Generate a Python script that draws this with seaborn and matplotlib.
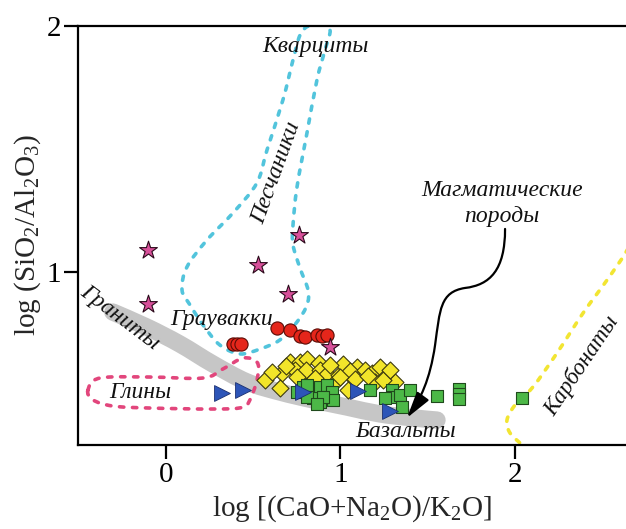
import numpy as np
import matplotlib
matplotlib.use("Agg")
import matplotlib.pyplot as plt
from matplotlib.path import Path
from matplotlib.patches import PathPatch, FancyArrowPatch
import seaborn as sns

# ---- sample groups: log[(CaO+Na2O)/K2O] vs log(SiO2/Al2O3) ----
star_x = [-0.103, -0.103, 0.527, 0.762, 0.699, 0.940]
star_y = [1.089, 0.870, 1.028, 1.150, 0.911, 0.695]

circle_x = [0.636, 0.711, 0.768, 0.797, 0.865, 0.894, 0.923, 0.384, 0.407, 0.430]
circle_y = [0.772, 0.764, 0.740, 0.736, 0.744, 0.740, 0.744, 0.707, 0.707, 0.707]

tri_x = [0.321, 0.441, 0.785, 1.100, 1.284]
tri_y = [0.508, 0.520, 0.512, 0.516, 0.435]

diam_x = [0.567, 0.665, 0.653, 0.711, 0.768, 0.808, 0.739, 0.802, 0.751, 0.877,
          0.883, 0.923, 0.825, 0.968, 0.991, 1.037, 1.014, 1.072, 1.095, 1.054,
          1.083, 1.140, 1.181, 1.226, 1.266, 1.312, 1.043, 1.198, 0.997, 0.688,
          1.158, 1.244, 0.940, 0.854, 0.607, 1.284]
diam_y = [0.561, 0.589, 0.528, 0.634, 0.634, 0.646, 0.602, 0.602, 0.573, 0.630,
          0.602, 0.585, 0.541, 0.553, 0.581, 0.606, 0.626, 0.569, 0.614, 0.598,
          0.565, 0.602, 0.589, 0.614, 0.581, 0.553, 0.520, 0.553, 0.573, 0.618,
          0.577, 0.561, 0.622, 0.569, 0.593, 0.602]

sq_x = [0.751, 0.785, 0.825, 0.854, 0.883, 0.923, 0.951, 0.957, 0.883, 0.842,
        0.900, 0.808, 0.865, 0.808, 1.169, 1.295, 1.301, 1.341, 1.398, 1.255,
        1.352, 1.553, 1.679, 1.679, 1.679, 2.040]
sq_y = [0.512, 0.533, 0.520, 0.500, 0.533, 0.541, 0.512, 0.480, 0.472, 0.488,
        0.492, 0.492, 0.463, 0.541, 0.520, 0.520, 0.492, 0.500, 0.520, 0.488,
        0.451, 0.496, 0.524, 0.504, 0.484, 0.488]

# ---- rock-type fields ----
trend_x = [-0.304, -0.109, 0.080, 0.269, 0.464, 0.653, 0.842, 1.037, 1.226, 1.415, 1.553]
trend_y = [0.837, 0.776, 0.707, 0.626, 0.553, 0.512, 0.480, 0.451, 0.423, 0.407, 0.398]

clay_x = [-0.447, -0.378, -0.092, 0.212, 0.327, 0.441, 0.521, 0.527, 0.493, 0.441,
          0.269, -0.092, -0.304, -0.418]
clay_y = [0.520, 0.569, 0.573, 0.569, 0.606, 0.650, 0.634, 0.581, 0.500, 0.451,
          0.443, 0.447, 0.455, 0.480]

sand_x = [0.814, 0.768, 0.728, 0.670, 0.579, 0.521, 0.384, 0.235, 0.120, 0.092,
          0.138, 0.212, 0.309, 0.424, 0.539, 0.653, 0.751, 0.808, 0.814, 0.768,
          0.728, 0.728, 0.751, 0.808, 0.865, 0.911, 0.940, 0.883]
sand_y = [2.000, 1.963, 1.862, 1.699, 1.496, 1.362, 1.240, 1.130, 1.020, 0.927,
          0.866, 0.785, 0.703, 0.667, 0.687, 0.724, 0.797, 0.866, 0.927, 1.016,
          1.110, 1.191, 1.346, 1.565, 1.780, 1.902, 1.984, 2.016]

carb_x = [2.716, 2.636, 2.527, 2.390, 2.241, 2.103, 2.000, 1.954, 1.971, 2.040, 2.063]
carb_y = [1.191, 1.081, 0.967, 0.833, 0.671, 0.533, 0.459, 0.398, 0.346, 0.297, 0.276]

xticks = [0, 1, 2]
yticks = [1, 2]


def smooth_path(xs, ys, closed=False):
    """Catmull-Rom through the vertices, written as cubic Bezier segments."""
    p = np.column_stack([xs, ys]).astype(float)
    n = len(p)
    verts = [p[0]]
    codes = [Path.MOVETO]
    segs = n if closed else n - 1
    for i in range(segs):
        p0 = p[(i - 1) % n] if (closed or i > 0) else p[i]
        p1 = p[i % n]
        p2 = p[(i + 1) % n]
        p3 = p[(i + 2) % n] if (closed or i + 2 < n) else p2
        c1 = p1 + (p2 - p0) / 6.0
        c2 = p2 - (p3 - p1) / 6.0
        verts += [c1, c2, p2]
        codes += [Path.CURVE4] * 3
    return Path(np.array(verts), codes)


sns.set_style("ticks")
plt.rcParams["font.family"] = ["Liberation Serif", "DejaVu Serif"]
plt.rcParams["mathtext.fontset"] = "custom"
plt.rcParams["mathtext.rm"] = "Liberation Serif"
plt.rcParams["mathtext.it"] = "Liberation Serif:italic"

fig = plt.figure(figsize=(6.26, 5.29), dpi=100)
ax = fig.add_axes([78 / 626, 1 - 445 / 529, (626 - 78) / 626, (445 - 26) / 529])
ax.set_xlim(-0.504, 2.636)
ax.set_ylim(0.2967, 2.0)

# granite-basalt trend band
band = smooth_path(trend_x, trend_y)
ax.add_patch(PathPatch(band, fill=False, edgecolor="#c6c6c6", lw=12.5,
                       capstyle="round", joinstyle="round", zorder=1))

dash = (0, (1.2, 2.4))
for xs, ys, col, closed in [(sand_x, sand_y, "#52c4dc", True),
                            (clay_x, clay_y, "#e2467c", True),
                            (carb_x, carb_y, "#f2e532", False)]:
    pp = PathPatch(smooth_path(xs, ys, closed), fill=False, edgecolor=col,
                   lw=2.6, linestyle=dash, capstyle="round", zorder=2)
    ax.add_patch(pp)

# samples
sns.scatterplot(x=sq_x, y=sq_y, marker="s", s=80, color="#4cb847",
                edgecolor="#1f4a1c", linewidth=0.8, ax=ax, zorder=4)
sns.scatterplot(x=diam_x, y=diam_y, marker="D", s=75, color="#f2e52a",
                edgecolor="#3d3a10", linewidth=0.8, ax=ax, zorder=3)
sns.scatterplot(x=tri_x, y=tri_y, marker=">", s=130, color="#2d55b8",
                edgecolor="#1a2f70", linewidth=0.6, ax=ax, zorder=5)
sns.scatterplot(x=circle_x, y=circle_y, marker="o", s=90, color="#e5261b",
                edgecolor="#5a0b05", linewidth=0.8, ax=ax, zorder=5)
sns.scatterplot(x=star_x, y=star_y, marker="*", s=180, color="#d8509a",
                edgecolor="#2a0a1a", linewidth=0.8, ax=ax, zorder=6)

# field names
lab = dict(style="italic", fontsize=17, color="#111111", zorder=8)
ax.text(0.854, 1.915, "Кварциты", ha="center", va="center", **lab)
ax.text(0.630, 1.402, "Песчаники", ha="center", va="center", rotation=70, **lab)
ax.text(0.321, 0.805, "Граувакки", ha="center", va="center", **lab)
ax.text(-0.264, 0.813, "Граниты", ha="center", va="center", rotation=-37, **lab)
ax.text(-0.149, 0.512, "Глины", ha="center", va="center", **lab)
ax.text(1.375, 0.350, "Базальты", ha="center", va="center", **lab)
ax.text(1.926, 1.333, "Магматические", ha="center", va="center", **lab)
ax.text(1.926, 1.224, "породы", ha="center", va="center", **lab)
ax.text(2.382, 0.617, "Карбонаты", ha="center", va="center", rotation=56,
        fontsize=16.5, style="italic", color="#111111", zorder=8)

# pointer to the igneous trend
arrow_path = Path(
    [(1.943, 1.175), (1.943, 1.008), (1.857, 0.947), (1.713, 0.935),
     (1.570, 0.919), (1.570, 0.846), (1.542, 0.703),
     (1.513, 0.561), (1.456, 0.480), (1.381, 0.407)],
    [Path.MOVETO] + [Path.CURVE4] * 9)
ax.add_patch(FancyArrowPatch(path=arrow_path,
                             arrowstyle="-|>,head_length=0.8,head_width=0.22",
                             mutation_scale=20, lw=1.6, color="black", zorder=7))

# axes styling
ax.spines["right"].set_visible(False)
for s in ("left", "bottom", "top"):
    ax.spines[s].set_linewidth(1.6)
    ax.spines[s].set_color("black")
ax.set_xticks(xticks)
ax.set_yticks(yticks)
ax.set_xticklabels([str(t) for t in xticks])
ax.set_yticklabels([str(t) for t in yticks])
ax.tick_params(axis="both", direction="out", length=10, width=1.6,
               labelsize=21, pad=2, colors="black")
ax.set_xlabel("log [(CaO+Na$_2$O)/K$_2$O]", fontsize=21, labelpad=4)
ax.set_ylabel("log (SiO$_2$/Al$_2$O$_3$)", fontsize=21, labelpad=3)

fig.savefig("out.png", dpi=100)
